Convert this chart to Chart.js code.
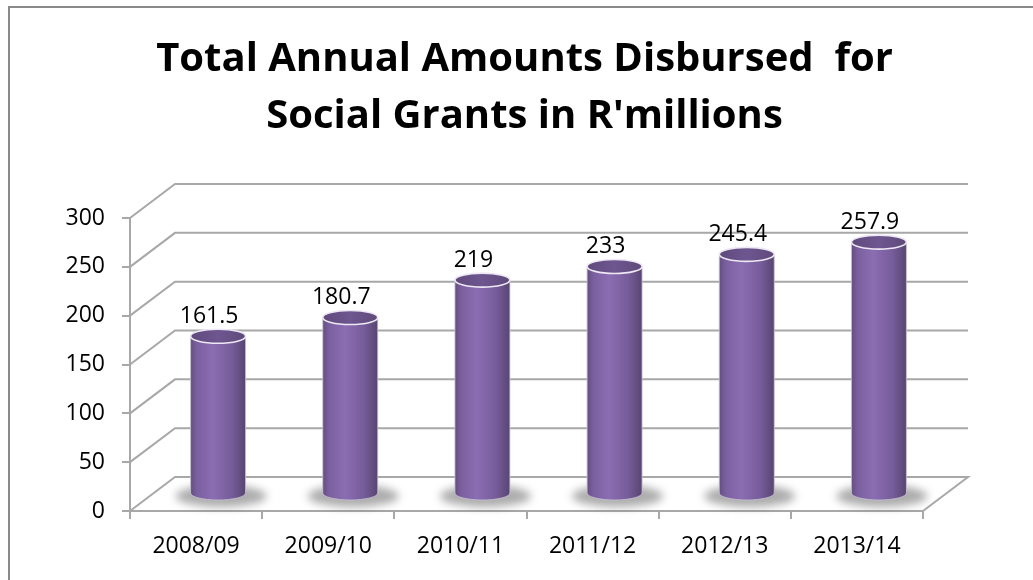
<!DOCTYPE html>
<html>
<head>
<meta charset="utf-8">
<script src="https://cdn.jsdelivr.net/npm/chart.js@4.4.1/dist/chart.umd.min.js"></script>
<style>
  html, body { margin: 0; padding: 0; background: #fff; overflow: hidden; }
  #frame { position: absolute; left: 8px; top: 6px; width: 1200px; height: 800px; border: 2px solid #8a8a8a; }
  #wrap { position: absolute; left: 0; top: 0; width: 1033px; height: 580px; }
</style>
</head>
<body>
<div id="frame"></div>
<div id="wrap"><canvas id="grants"></canvas></div>
<script>
  const years = ['2008/09', '2009/10', '2010/11', '2011/12', '2012/13', '2013/14'];
  const amounts = [161.5, 180.7, 219, 233, 245.4, 257.9];
  const titleLines = ['Total Annual Amounts Disbursed  for', "Social Grants in R'millions"];
  const yMax = 300;
  const yStep = 50;

  Chart.defaults.font.family = '"Open Sans", sans-serif';
  Chart.defaults.color = '#000';

  // depth of the box: back wall offset and the plane the cylinders stand on
  const WALL = {dx: 45, dy: -34};
  const MID = {dx: 22, dy: -17};
  const lineGrey = '#a8a8a8';

  // back wall, floor and the diagonals joining them to the front axes
  const wallPlugin = {
    id: 'wall',
    beforeDatasetsDraw(chart) {
      const {ctx, chartArea} = chart;
      const y = chart.scales.y;
      ctx.save();
      ctx.strokeStyle = lineGrey;
      ctx.lineWidth = 2;
      y.ticks.forEach(t => {
        const py = y.getPixelForValue(t.value);
        ctx.beginPath();
        ctx.moveTo(chartArea.left, py);
        ctx.lineTo(chartArea.left + WALL.dx, py + WALL.dy);
        ctx.lineTo(chartArea.right + WALL.dx, py + WALL.dy);
        if (t.value === 0) {
          ctx.lineTo(chartArea.right, py);
        }
        ctx.stroke();
      });
      ctx.restore();
    }
  };

  function ellipsePath(ctx, cx, cy, rx, ry) {
    ctx.beginPath();
    ctx.ellipse(cx, cy, rx, ry, 0, 0, Math.PI * 2);
  }

  // cylinders drawn from each bar element, plus the value above them
  const cylinderPlugin = {
    id: 'cylinders',
    afterDatasetsDraw(chart) {
      const {ctx} = chart;
      const meta = chart.getDatasetMeta(0);
      const values = chart.data.datasets[0].data;
      meta.data.forEach((bar, i) => {
        const cx = bar.x + MID.dx;
        const top = bar.y + MID.dy;
        const base = bar.base + MID.dy;
        const r = bar.width / 2;
        const ry = 7;

        // floor shadow
        ctx.save();
        ctx.filter = 'blur(4px)';
        ctx.fillStyle = 'rgba(90,90,90,0.5)';
        ellipsePath(ctx, cx + 3, base + 3, r + 18, 11);
        ctx.fill();
        ctx.restore();

        // body
        ctx.save();
        const g = ctx.createLinearGradient(cx - r, 0, cx + r, 0);
        g.addColorStop(0, '#654e82');
        g.addColorStop(0.12, '#7b60a0');
        g.addColorStop(0.4, '#8b6db2');
        g.addColorStop(0.75, '#765c9a');
        g.addColorStop(1, '#574571');
        ctx.beginPath();
        ctx.moveTo(cx - r, top);
        ctx.lineTo(cx - r, base);
        ctx.ellipse(cx, base, r, ry, 0, Math.PI, 0, true);
        ctx.lineTo(cx + r, top);
        ctx.closePath();
        ctx.fillStyle = g;
        ctx.fill();
        ctx.strokeStyle = 'rgba(200,195,210,0.8)';
        ctx.lineWidth = 1;
        ctx.stroke();

        // top face
        const tg = ctx.createLinearGradient(cx - r, 0, cx + r, 0);
        tg.addColorStop(0, '#5f4a7c');
        tg.addColorStop(0.5, '#6e5690');
        tg.addColorStop(1, '#5e4a7a');
        ellipsePath(ctx, cx, top, r, ry);
        ctx.fillStyle = tg;
        ctx.fill();
        ctx.strokeStyle = '#eee8f4';
        ctx.lineWidth = 1.6;
        ctx.stroke();
        ctx.restore();

        // value label
        ctx.save();
        ctx.font = '23px "Open Sans", sans-serif';
        ctx.fillStyle = '#000';
        ctx.textAlign = 'center';
        ctx.textBaseline = 'middle';
        ctx.fillText(String(values[i]), cx - 9, top - 20);
        ctx.restore();
      });
    }
  };

  new Chart(document.getElementById('grants'), {
    type: 'bar',
    data: {
      labels: years,
      datasets: [{
        data: amounts,
        backgroundColor: 'rgba(0,0,0,0)',
        borderWidth: 0,
        barPercentage: 0.416,
        categoryPercentage: 1
      }]
    },
    options: {
      responsive: true,
      maintainAspectRatio: false,
      animation: false,
      layout: {padding: {left: 16, right: 0, top: 0, bottom: 0}},
      plugins: {
        legend: {display: false},
        tooltip: {enabled: false},
        title: {
          display: true,
          text: titleLines,
          color: '#000',
          font: {size: 40, weight: 'bold', lineHeight: 1.425},
          padding: {top: 31, bottom: 73}
        }
      },
      scales: {
        x: {
          grid: {drawOnChartArea: false, tickLength: 8, color: lineGrey, lineWidth: 2},
          border: {color: lineGrey, width: 2},
          ticks: {font: {size: 23}, padding: 14, maxRotation: 0},
          afterFit(s) { s.height = 69; }
        },
        y: {
          min: 0,
          max: yMax,
          ticks: {stepSize: yStep, font: {size: 23}, padding: 17},
          grid: {drawOnChartArea: false, tickLength: 8, color: lineGrey, lineWidth: 2},
          border: {color: lineGrey, width: 2},
          afterFit(s) { s.width = 114; }
        },
        yr: {
          type: 'linear',
          position: 'right',
          grid: {display: false},
          border: {display: false},
          ticks: {display: false},
          afterFit(s) { s.width = 110; }
        }
      }
    },
    plugins: [wallPlugin, cylinderPlugin]
  });
</script>
</body>
</html>
